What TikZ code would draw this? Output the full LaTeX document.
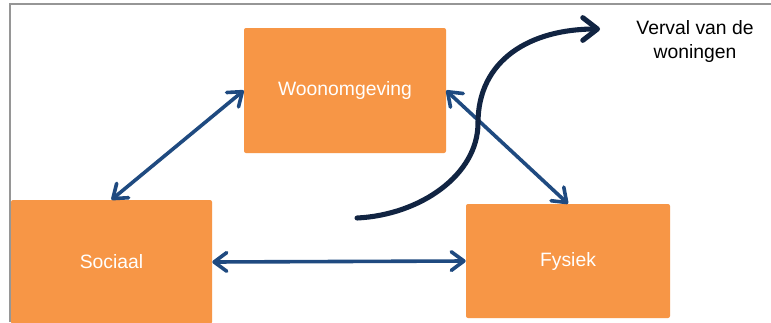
\documentclass[tikz,border=0pt]{standalone}
\usepackage{fontspec}
\setmainfont{Liberation Sans}
\usetikzlibrary{arrows.meta}
\definecolor{boxorange}{RGB}{247,150,70}
\definecolor{linkblue}{RGB}{31,74,128}
\definecolor{curvenavy}{RGB}{17,36,66}
\definecolor{framegray}{RGB}{150,150,150}
\begin{document}
\begin{tikzpicture}[x=0.75pt,y=-0.75pt,
  factorbox/.style={fill=boxorange, rounded corners=1.5pt, inner sep=0pt,
    text=white, font=\fontsize{14.5}{17}\selectfont},
  linkarrow/.style={draw=linkblue, line width=2.7pt,
    {Straight Barb[length=9.5pt,width=14pt,round]}-{Straight Barb[length=9.5pt,width=14pt,round]}},
  trendarrow/.style={draw=curvenavy, line width=3.8pt, line cap=round,
    -{Straight Barb[length=11pt,width=17pt,round]}},
  labeltext/.style={align=center, text=black, font=\fontsize{14.5}{17.3}\selectfont}]
\useasboundingbox (0,0) rectangle (771,322);
\clip (0,0) rectangle (771,322);
\fill[white] (0,0) rectangle (771,322);
\draw[framegray, line width=1.3pt] (771,4) -- (10,4) -- (10,322);

\node[factorbox, minimum width=151.5pt, minimum height=93.75pt] (woon) at (345,90.5) {Woonomgeving};
\node[factorbox, minimum width=150.75pt, minimum height=93pt] (soc) at (111.5,262) {Sociaal};
\node[factorbox, minimum width=153pt, minimum height=85.5pt] (fys) at (568,261) {Fysiek};

\node[labeltext] (verval) at (695,41.5) {Verval van de\\woningen};

\draw[linkarrow] (woon.west) -- (soc.north);
\draw[linkarrow] (woon.east) -- (fys.north);
\draw[linkarrow] (soc.east) -- (fys.west);

\coordinate (cstart) at (357,218);
\coordinate (cmid) at (478,123);
\coordinate (cend) at (600,29);
\draw[trendarrow] (cstart) .. controls (420,215) and (478,175) .. (cmid)
  .. controls (478,60) and (530,29) .. (cend);
\end{tikzpicture}
\end{document}
